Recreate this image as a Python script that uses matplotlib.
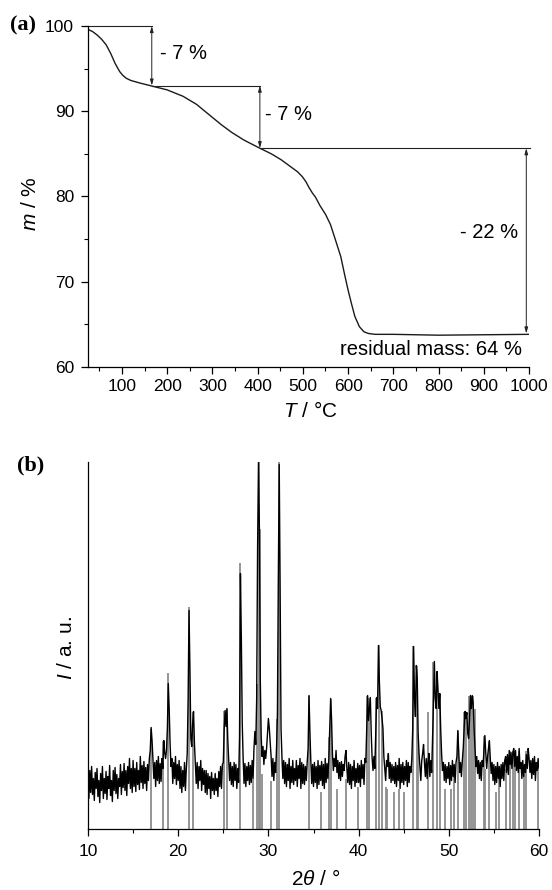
import matplotlib
matplotlib.use('Agg')
import matplotlib.pyplot as plt
import numpy as np
from matplotlib.ticker import MultipleLocator

plt.rcParams['font.family'] = ['Liberation Sans', 'DejaVu Sans']
plt.rcParams['mathtext.fontset'] = 'custom'
plt.rcParams['mathtext.rm'] = 'Liberation Sans'
plt.rcParams['mathtext.it'] = 'Liberation Sans:italic'
plt.rcParams['mathtext.bf'] = 'Liberation Sans:bold'

# ---------------- (a) TGA data ----------------
tga_T = [25, 35, 45, 55, 65, 75, 85, 95, 102, 110, 120, 140, 170, 200, 235, 265,
         297, 320, 343, 370, 405, 430, 452, 475, 488, 499, 507, 514, 521, 528, 538,
         550, 561, 572, 584, 592, 600, 608, 615, 625, 635, 645, 660, 700, 800, 900,
         1000]
tga_m = [99.6, 99.35, 98.95, 98.45, 97.8, 96.8, 95.6, 94.65, 94.2, 93.85, 93.6,
         93.3, 92.9, 92.5, 91.75, 90.8, 89.4, 88.4, 87.5, 86.6, 85.65, 85.0, 84.3,
         83.4, 82.9, 82.3, 81.7, 81.0, 80.4, 79.9, 78.9, 77.9, 76.7, 74.9, 72.9,
         70.9, 69.0, 67.3, 65.9, 64.7, 64.1, 63.9, 63.8, 63.8, 63.7, 63.75, 63.8]
step_T = [166, 405, 994]               # temperatures of the step markers
step_m = [100.0, 93.0, 85.65, 63.9]    # mass levels between steps
step_labels = ['- 7 %', '- 7 %', '- 22 %']
residual_label = 'residual mass: 64 %'

# ---------------- (b) XRD data ----------------
xrd_start = 10.0
xrd_step = 0.1
xrd_rows = [
    [52, 30, 58, 36, 62, 34, 50, 28, 56, 40],     # 10
    [60, 32, 48, 26, 55, 38, 62, 30, 50, 35],     # 11
    [57, 29, 52, 40, 63, 33, 48, 27, 58, 38],     # 12
    [61, 35, 54, 30, 50, 42, 64, 34, 57, 41],     # 13
    [65, 38, 58, 33, 62, 45, 70, 40, 60, 36],     # 14
    [68, 42, 60, 37, 66, 44, 58, 39, 72, 46],     # 15
    [63, 40, 67, 45, 61, 38, 64, 48, 70, 78],     # 16
    [101, 88, 70, 50, 66, 42, 68, 48, 72, 45],    # 17
    [65, 47, 70, 60, 88, 76, 70, 78, 100, 145],   # 18
    [120, 85, 62, 70, 45, 66, 50, 72, 44, 64],    # 19
    [48, 68, 40, 62, 36, 58, 42, 66, 38, 60],     # 20
    [75, 130, 218, 160, 90, 82, 105, 117, 85, 64],  # 21
    [45, 66, 40, 62, 48, 68, 38, 60, 44, 58],     # 22
    [36, 58, 34, 55, 40, 52, 30, 56, 38, 50],     # 23
    [34, 55, 38, 50, 32, 57, 42, 62, 40, 64],     # 24
    [66, 100, 118, 102, 120, 88, 68, 48, 66, 44],  # 25
    [62, 42, 66, 48, 64, 40, 60, 46, 92, 255],    # 26
    [190, 105, 70, 45, 65, 42, 62, 48, 66, 44],   # 27
    [63, 46, 68, 50, 80, 97, 84, 130, 280, 366],  # 28
    [300, 150, 92, 72, 82, 64, 78, 70, 80, 95],   # 29
    [110, 100, 86, 72, 52, 70, 48, 66, 56, 80],   # 30
    [115, 250, 364, 240, 100, 72, 50, 68, 45, 66],  # 31
    [42, 64, 48, 70, 40, 62, 46, 68, 44, 60],     # 32
    [48, 68, 42, 63, 50, 70, 40, 66, 45, 64],     # 33
    [44, 62, 48, 66, 80, 133, 98, 68, 45, 64],    # 34
    [42, 66, 46, 62, 40, 68, 44, 63, 48, 67],     # 35
    [43, 64, 40, 70, 46, 65, 50, 70, 100, 130],   # 36
    [110, 75, 58, 70, 62, 78, 56, 68, 50, 66],    # 37
    [48, 67, 52, 64, 58, 72, 78, 60, 46, 66],     # 38
    [44, 64, 40, 62, 48, 68, 42, 60, 46, 65],     # 39
    [46, 63, 42, 68, 50, 64, 44, 70, 66, 100],    # 40
    [133, 108, 120, 131, 95, 70, 58, 72, 60, 95],  # 41
    [131, 120, 183, 148, 122, 118, 110, 100, 72, 60],  # 42
    [48, 68, 62, 75, 50, 66, 46, 64, 48, 62],     # 43
    [45, 66, 42, 63, 48, 70, 40, 64, 46, 66],     # 44
    [44, 62, 48, 68, 42, 66, 46, 62, 56, 70],     # 45
    [100, 182, 130, 112, 163, 150, 95, 75, 62, 48],  # 46
    [68, 75, 84, 66, 52, 70, 50, 66, 75, 52],     # 47
    [68, 56, 90, 125, 167, 130, 120, 157, 140, 120],  # 48
    [135, 100, 75, 58, 66, 48, 64, 46, 62, 50],   # 49
    [66, 44, 63, 48, 68, 52, 64, 46, 66, 72],     # 50
    [98, 78, 56, 66, 52, 68, 80, 100, 117, 110],  # 51
    [116, 95, 90, 110, 133, 120, 133, 125, 100, 80],  # 52
    [62, 72, 55, 68, 50, 66, 48, 68, 62, 80],     # 53
    [93, 75, 60, 72, 80, 88, 70, 55, 66, 48],     # 54
    [64, 44, 62, 46, 66, 50, 62, 42, 64, 50],     # 55
    [66, 48, 68, 72, 56, 74, 54, 78, 64, 76],     # 56
    [60, 76, 80, 62, 78, 58, 72, 56, 80, 60],     # 57
    [66, 50, 68, 52, 64, 56, 74, 60, 80, 70],     # 58
    [56, 68, 50, 70, 54, 72, 48, 66, 58, 70],     # 59
    [60],                                          # 60
]
ref_pos = [16.93, 18.37, 18.88, 21.18, 21.68, 25.12, 25.39, 26.87, 28.31, 28.70,
           28.92, 29.07, 29.29, 30.26, 30.95, 31.15, 34.50, 35.80, 36.70, 36.89,
           37.59, 38.56, 39.93, 40.90, 41.17, 41.95, 42.23, 42.54, 43.00, 43.13,
           43.98, 44.49, 45.07, 46.05, 46.44, 46.63, 47.73, 48.30, 48.70, 48.97,
           49.56, 50.26, 50.53, 51.06, 51.70, 51.90, 52.28, 52.50, 52.67, 52.87,
           53.85, 54.04, 54.50, 55.21, 55.60, 56.38, 56.77, 57.16, 57.35, 57.74,
           58.33, 58.60, 59.89]
ref_int = [100, 88, 156, 222, 117, 118, 120, 266, 50, 145,
           366, 300, 55, 48, 110, 366, 133, 37, 92, 130,
           40, 50, 42, 133, 131, 131, 184, 118, 42, 40,
           37, 40, 37, 183, 163, 95, 117, 167, 157, 135,
           40, 40, 60, 98, 117, 117, 133, 133, 133, 120,
           93, 60, 88, 37, 50, 60, 78, 78, 78, 78,
           55, 78, 60]

xrd_I = np.array([v for row in xrd_rows for v in row], dtype=float)
xrd_2t = xrd_start + xrd_step * np.arange(len(xrd_I))

# ---------------- figure ----------------
W, H = 552, 890
fig = plt.figure(figsize=(W / 100, H / 100), dpi=100)

def fx(px):
    return px / W

def fy(py):
    return 1 - py / H

ax1 = fig.add_axes([fx(88), fy(366.7), fx(529 - 88), (366.7 - 26) / H])
ax2 = fig.add_axes([fx(88), fy(828.5), fx(539 - 88), (828.5 - 462) / H])

TICK_FS = 12.5
for ax in (ax1, ax2):
    ax.spines['top'].set_visible(False)
    ax.spines['right'].set_visible(False)
    for s in ('left', 'bottom'):
        ax.spines[s].set_linewidth(0.9)
    ax.tick_params(which='major', direction='out', length=5, width=0.9,
                   labelsize=TICK_FS)
    ax.tick_params(which='minor', direction='out', length=3, width=0.8)

# (a)
ax1.plot(tga_T, tga_m, color='#1a1a1a', lw=1.0)
ax1.set_xlim(25, 1000)
ax1.set_ylim(60, 100)
ax1.set_xticks(np.arange(100, 1001, 100))
ax1.xaxis.set_minor_locator(MultipleLocator(50))
ax1.set_yticks([60, 70, 80, 90, 100])
ax1.yaxis.set_minor_locator(MultipleLocator(5))
ax1.tick_params(axis='x', which='major', pad=4)
ax1.tick_params(axis='y', which='major', pad=5)

line_kw = dict(color='#222222', lw=0.8, clip_on=False)
ax1.plot([25, step_T[0]], [step_m[0], step_m[0]], **line_kw)
ax1.plot([step_T[0], step_T[1]], [step_m[1], step_m[1]], **line_kw)
ax1.plot([step_T[1], 1003], [step_m[2], step_m[2]], **line_kw)
arrow_kw = dict(arrowstyle='<|-|>,head_length=0.35,head_width=0.1',
                lw=0.7, color='#222222', shrinkA=0, shrinkB=0)
for i, T in enumerate(step_T):
    ax1.annotate('', xy=(T, step_m[i + 1]), xytext=(T, step_m[i]),
                 arrowprops=arrow_kw, annotation_clip=False)

ANN_FS = 14.5
ax1.text(184, 96.8, step_labels[0], ha='left', va='center', fontsize=ANN_FS)
ax1.text(417, 89.6, step_labels[1], ha='left', va='center', fontsize=ANN_FS)
ax1.text(977, 75.7, step_labels[2], ha='right', va='center', fontsize=ANN_FS)
ax1.text(985, 62.0, residual_label, ha='right', va='center', fontsize=ANN_FS)

# (b)
ax2.vlines(ref_pos, 0, ref_int, color='#8c8c8c', lw=1.3, zorder=1)
ax2.plot(xrd_2t, xrd_I, color='black', lw=1.0, zorder=2)
ax2.set_xlim(10, 60)
ax2.set_ylim(0, 366.5)
ax2.set_xticks([10, 20, 30, 40, 50, 60])
ax2.xaxis.set_minor_locator(MultipleLocator(5))
ax2.set_yticks([])
ax2.tick_params(axis='x', which='major', pad=6)

LAB_FS = 15
fig.text(fx(30), fy(204), r'$m$ / %', rotation=90, ha='center', va='center', fontsize=LAB_FS)
fig.text(fx(310), fy(411), r'$T$ / °C', ha='center', va='center', fontsize=LAB_FS)
fig.text(fx(67), fy(648), r'$I$ / a. u.', rotation=90, ha='center', va='center', fontsize=LAB_FS)
fig.text(fx(316), fy(879), r'2$\theta$ / °', ha='center', va='center', fontsize=LAB_FS)

fig.text(fx(23), fy(25), '(a)', ha='center', va='center', fontsize=16,
         fontweight='bold', family=['Liberation Serif', 'DejaVu Serif'])
fig.text(fx(31), fy(465), '(b)', ha='center', va='center', fontsize=16,
         fontweight='bold', family=['Liberation Serif', 'DejaVu Serif'])

fig.savefig('out.png', dpi=100)
